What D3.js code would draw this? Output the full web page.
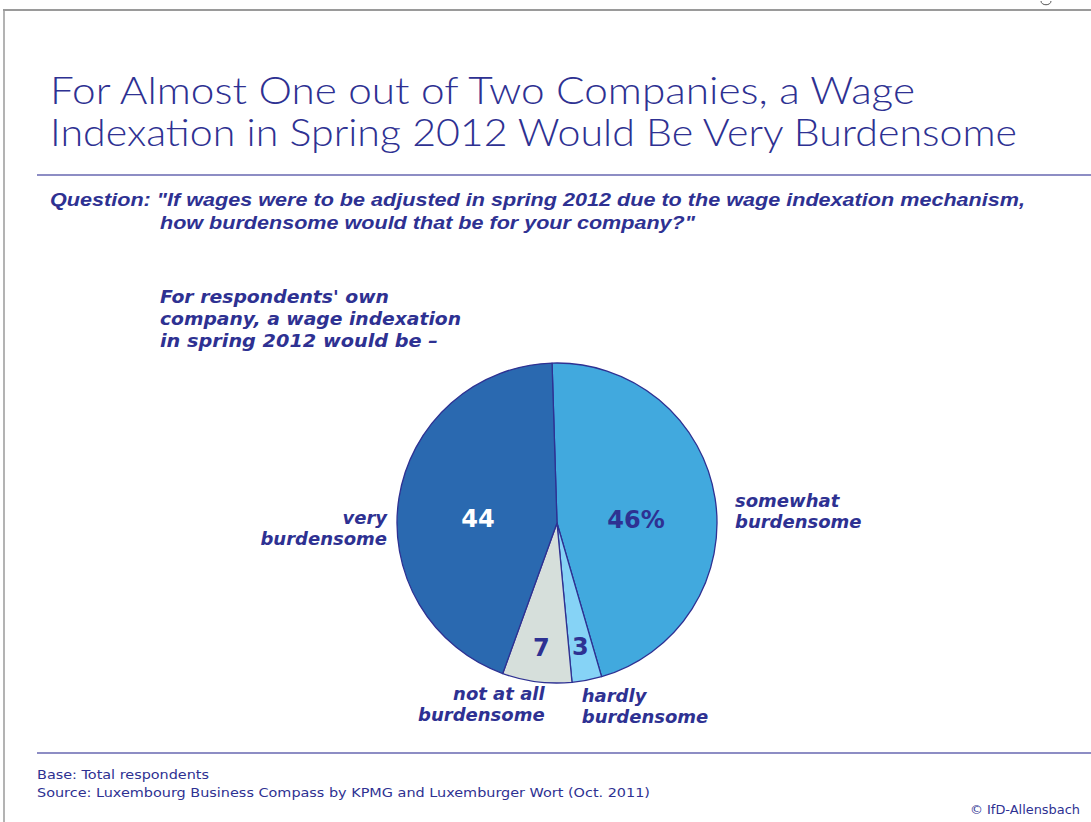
<!DOCTYPE html>
<html>
<head>
<meta charset="utf-8">
<script src="https://cdn.jsdelivr.net/npm/d3@7"></script>
<style>
  html, body { margin: 0; padding: 0; background: #fff; }
  svg { display: block; }
</style>
</head>
<body>
<svg id="chart" width="1091" height="822"></svg>
<script>
// Survey answers, clockwise from the top of the pie
const categories = ["somewhat burdensome", "hardly burdensome", "not at all burdensome", "very burdensome"];
const labelLines = [["somewhat", "burdensome"], ["hardly", "burdensome"], ["not at all", "burdensome"], ["very", "burdensome"]];
const values = [46, 3, 7, 44];
const valueLabels = ["46%", "3", "7", "44"];
const sliceColors = ["#41a9de", "#86d3f6", "#d6dfdb", "#2a69b0"];
const valueColors = ["#2e3192", "#2e3192", "#2e3192", "#ffffff"];

const titleLines = ["For Almost One out of Two Companies, a Wage", "Indexation in Spring 2012 Would Be Very Burdensome"];
const questionLines = ["Question: \"If wages were to be adjusted in spring 2012 due to the wage indexation mechanism,",
                       "how burdensome would that be for your company?\""];
const leadLines = ["For respondents' own", "company, a wage indexation", "in spring 2012 would be \u2013"];
const footLines = ["Base: Total respondents", "Source: Luxembourg Business Compass by KPMG and Luxemburger Wort (Oct. 2011)"];
const credit = "\u00a9 IfD-Allensbach";

const navy = "#2e3192";
const svg = d3.select("#chart");

// Page frame, with the foot of a glyph peeking in from the page above
svg.append("line").attr("x1", 3).attr("x2", 1091).attr("y1", 10).attr("y2", 10)
  .attr("stroke", "#9a9a9a").attr("stroke-width", 2);
svg.append("line").attr("x1", 4).attr("x2", 4).attr("y1", 10).attr("y2", 822)
  .attr("stroke", "#9a9a9a").attr("stroke-width", 1.5);
svg.append("path").attr("d", "M1041,1 C1041,6 1051,6 1051,1")
  .attr("fill", "none").attr("stroke", "#555").attr("stroke-width", 1);

// Title
svg.append("g").selectAll("text").data(titleLines).join("text")
  .attr("x", 50).attr("y", (d, i) => 104 + i * 42)
  .attr("font-family", "Lato, 'Open Sans', sans-serif").attr("font-weight", 300)
  .attr("font-size", 37).attr("fill", navy)
  .attr("textLength", (d, i) => [865, 967][i]).attr("lengthAdjust", "spacingAndGlyphs")
  .text(d => d);

// Rules
svg.append("line").attr("x1", 37).attr("x2", 1091).attr("y1", 175).attr("y2", 175)
  .attr("stroke", "#6767b0").attr("stroke-width", 1.5);
svg.append("line").attr("x1", 37).attr("x2", 1091).attr("y1", 753).attr("y2", 753)
  .attr("stroke", "#6767b0").attr("stroke-width", 1.5);

// Question
svg.append("g").selectAll("text").data(questionLines).join("text")
  .attr("x", (d, i) => i === 0 ? 50 : 160).attr("y", (d, i) => 206 + i * 23)
  .attr("font-family", "'Liberation Sans Narrow', 'Liberation Sans', sans-serif")
  .attr("font-weight", 700).attr("font-style", "italic")
  .attr("font-size", 19).attr("fill", navy)
  .attr("textLength", (d, i) => [975, 535][i]).attr("lengthAdjust", "spacingAndGlyphs")
  .text(d => d);

// Lead-in text
svg.append("g").selectAll("text").data(leadLines).join("text")
  .attr("x", 160).attr("y", (d, i) => 303 + i * 22)
  .attr("font-family", "'DejaVu Sans', sans-serif").attr("font-weight", 700).attr("font-style", "italic")
  .attr("font-size", 18).attr("fill", navy)
  .attr("textLength", (d, i) => [229, 301, 278][i]).attr("lengthAdjust", "spacingAndGlyphs")
  .text(d => d);

// Pie
const cx = 557, cy = 523, R = 160;
const startOffset = -0.031;
const pie = d3.pie().sort(null).value(d => d.value)
  .startAngle(startOffset).endAngle(2 * Math.PI + startOffset);
const rows = categories.map((c, i) => ({
  category: c, value: values[i], label: valueLabels[i], lines: labelLines[i],
  color: sliceColors[i], textColor: valueColors[i]
}));
const arcs = pie(rows);
const arc = d3.arc().innerRadius(0).outerRadius(R);

const g = svg.append("g").attr("transform", `translate(${cx},${cy})`);
g.selectAll("path").data(arcs).join("path")
  .attr("d", arc).attr("fill", d => d.data.color)
  .attr("stroke", navy).attr("stroke-width", 1.3).attr("stroke-linejoin", "round");

// Value labels: small slices are labelled nearer the rim
g.selectAll("text.value").data(arcs).join("text").attr("class", "value")
  .attr("transform", d => {
    const a = (d.startAngle + d.endAngle) / 2;
    const small = d.data.value < 10;
    const r = small ? R * 0.78 : R * 0.5;
    return `translate(${r * Math.sin(a)},${-r * Math.cos(a) + (small ? 9 : 17)})`;
  })
  .attr("text-anchor", "middle")
  .attr("font-family", "'DejaVu Sans', sans-serif").attr("font-weight", 700)
  .attr("font-size", 24).attr("fill", d => d.data.textColor)
  .text(d => d.data.label);

// Category labels outside the pie
const catG = g.selectAll("g.cat").data(arcs).join("g").attr("class", "cat")
  .attr("transform", d => {
    const a = (d.startAngle + d.endAngle) / 2;
    const s = Math.sin(a);
    if (d.data.value >= 10) {
      // side labels, level with the centre
      const x = s > 0 ? R + 18 : -(R + 10);
      return `translate(${x},${s > 0 ? -16 : 1})`;
    }
    const r = R + 10;
    const x = r * s + (s > 0 ? -7 : 9);
    return `translate(${x},${-r * Math.cos(a) + (s > 0 ? 12 : 8)})`;
  })
  .attr("text-anchor", d => Math.sin((d.startAngle + d.endAngle) / 2) > 0 ? "start" : "end");

catG.selectAll("text").data(d => d.data.lines).join("text")
  .attr("y", (d, i) => i * 21)
  .attr("font-family", "'DejaVu Sans', sans-serif").attr("font-weight", 700).attr("font-style", "italic")
  .attr("font-size", 18).attr("fill", navy)
  .text(d => d);

// Footer
svg.append("g").selectAll("text").data(footLines).join("text")
  .attr("x", 37).attr("y", (d, i) => 779 + i * 18)
  .attr("font-family", "'DejaVu Sans', sans-serif").attr("font-size", 12.5).attr("fill", navy)
  .attr("textLength", (d, i) => [172, 613][i]).attr("lengthAdjust", "spacingAndGlyphs")
  .text(d => d);
svg.append("text").attr("x", 1080).attr("y", 814).attr("text-anchor", "end")
  .attr("font-family", "'DejaVu Sans', sans-serif").attr("font-size", 12).attr("fill", navy)
  .attr("textLength", 110).attr("lengthAdjust", "spacingAndGlyphs")
  .text(credit);
</script>
</body>
</html>
